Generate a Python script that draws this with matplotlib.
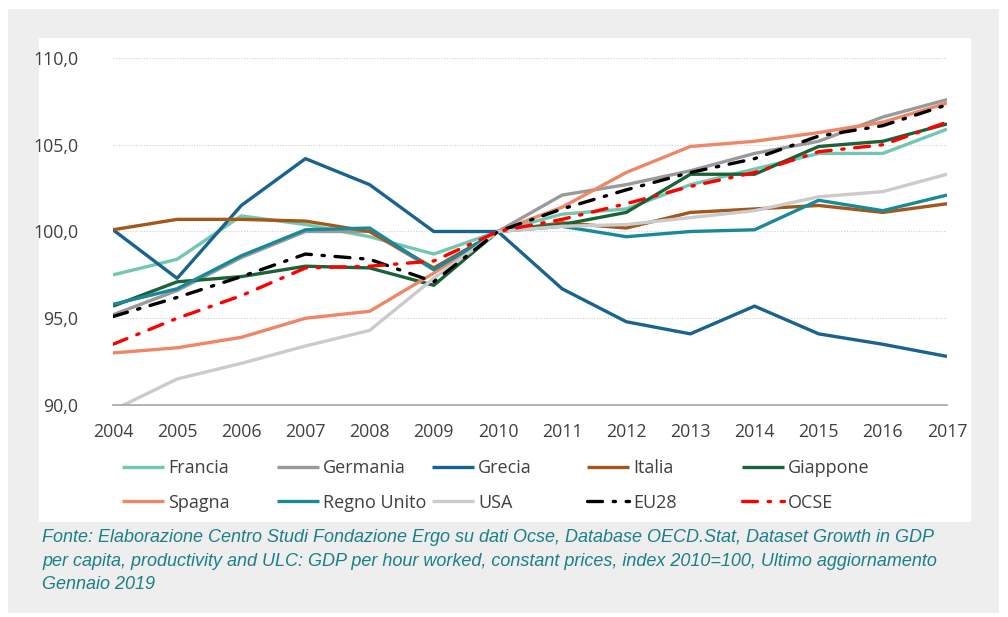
import matplotlib.pyplot as plt
from matplotlib.patches import Rectangle

# Productivity index (GDP per hour worked, 2010=100)
years = list(range(2004, 2018))

francia    = [97.5, 98.4, 100.9, 100.4, 99.7, 98.7, 100.0, 101.0, 101.3, 102.7, 103.6, 104.5, 104.5, 105.9]
germania   = [95.2, 96.6, 98.5, 100.0, 100.0, 97.8, 100.0, 102.1, 102.7, 103.5, 104.5, 105.2, 106.6, 107.6]
grecia     = [100.1, 97.3, 101.5, 104.2, 102.7, 100.0, 100.0, 96.7, 94.8, 94.1, 95.7, 94.1, 93.5, 92.8]
italia     = [100.1, 100.7, 100.7, 100.6, 100.0, 97.9, 100.0, 100.5, 100.2, 101.1, 101.3, 101.5, 101.1, 101.6]
giappone   = [95.7, 97.1, 97.4, 98.0, 97.9, 96.9, 100.0, 100.4, 101.1, 103.3, 103.3, 104.9, 105.2, 106.2]
spagna     = [93.0, 93.3, 93.9, 95.0, 95.4, 97.6, 100.0, 101.4, 103.4, 104.9, 105.2, 105.7, 106.3, 107.4]
regno_unito = [95.8, 96.7, 98.6, 100.1, 100.2, 97.8, 100.0, 100.3, 99.7, 100.0, 100.1, 101.8, 101.2, 102.1]
usa        = [89.7, 91.5, 92.4, 93.4, 94.3, 97.3, 100.0, 100.3, 100.4, 100.8, 101.2, 102.0, 102.3, 103.3]
eu28       = [95.1, 96.2, 97.4, 98.7, 98.4, 97.1, 100.0, 101.3, 102.4, 103.4, 104.2, 105.5, 106.1, 107.3]
ocse       = [93.5, 95.0, 96.3, 97.9, 98.0, 98.3, 100.0, 100.7, 101.6, 102.6, 103.4, 104.6, 105.0, 106.3]

labels = ["Francia", "Germania", "Grecia", "Italia", "Giappone",
          "Spagna", "Regno Unito", "USA", "EU28", "OCSE"]
series = [francia, germania, grecia, italia, giappone,
          spagna, regno_unito, usa, eu28, ocse]
colors = ["#72c7b1", "#9a9a9a", "#18638f", "#a2581a", "#1b6337",
          "#ee8668", "#19899a", "#cbcbcb", "#000000", "#ff0000"]
dashdot = (0, (4.5, 3.2, 0.7, 3.2))
styles = ["-"] * 8 + [dashdot, dashdot]

yticks = [90, 95, 100, 105, 110]
ytick_labels = ["90,0", "95,0", "100,0", "105,0", "110,0"]

plt.rcParams['font.family'] = ['Open Sans', 'DejaVu Sans']

fig = plt.figure(figsize=(10.08, 6.17), dpi=100)
W, H = 1008, 617

# grey frame and white panel (behind everything)
fig.patches.append(Rectangle((8 / W, 1 - 613 / H), 991 / W, 604 / H, transform=fig.transFigure,
                             facecolor="#edeeed", edgecolor="none", zorder=-10))
fig.patches.append(Rectangle((39 / W, 1 - 522 / H), 932 / W, 484 / H, transform=fig.transFigure,
                             facecolor="white", edgecolor="none", zorder=-9))

ax = fig.add_axes([113 / W, 1 - 405 / H, (947 - 113) / W, (405 - 58) / H])
ax.set_facecolor("none")

lines = []
for vals, lab, col, ls in zip(series, labels, colors, styles):
    ln, = ax.plot(years, vals, color=col, lw=2.4, ls=ls, label=lab,
                  solid_capstyle="butt", dash_capstyle="round")
    lines.append(ln)

ax.set_xlim(2004, 2017)
ax.set_ylim(90, 110)
ax.set_xticks(years)
ax.set_yticks(yticks)
ax.set_yticklabels(ytick_labels)
ax.tick_params(axis="x", length=0, pad=13, labelsize=12.8, colors="#404040")
ax.tick_params(axis="y", length=0, pad=25, labelsize=12.8, colors="#404040")
for sp in ["top", "right", "left"]:
    ax.spines[sp].set_visible(False)
ax.spines["bottom"].set_color("#a6a6a6")
ax.spines["bottom"].set_linewidth(1.2)
ax.grid(axis="y", color="#cfcfcf", ls=(0, (1, 1.5)), lw=0.8)
ax.set_axisbelow(True)

# legend: five equally spaced columns of two rows
col_x = [122, 277, 432, 587, 742]
for i, x in enumerate(col_x):
    hs = [lines[i], lines[i + 5]]
    leg = fig.legend(hs, [labels[i], labels[i + 5]], loc="upper left",
                     bbox_to_anchor=(x / W, 1 - 459 / H), frameon=False,
                     fontsize=13, handlelength=2.3, handletextpad=0.25,
                     labelspacing=0.93, borderpad=0, borderaxespad=0)
    for t in leg.get_texts():
        t.set_color("#404040")

note = ("Fonte: Elaborazione Centro Studi Fondazione Ergo su dati Ocse, Database OECD.Stat, Dataset Growth in GDP\n"
        "per capita, productivity and ULC: GDP per hour worked, constant prices, index 2010=100, Ultimo aggiornamento\n"
        "Gennaio 2019")
fig.text(42 / W, 1 - 529 / H, note, ha="left", va="top", fontsize=13.0, style="italic",
         family="Liberation Sans", color="#1b8088", linespacing=1.5)

fig.savefig("out.png", dpi=100)
